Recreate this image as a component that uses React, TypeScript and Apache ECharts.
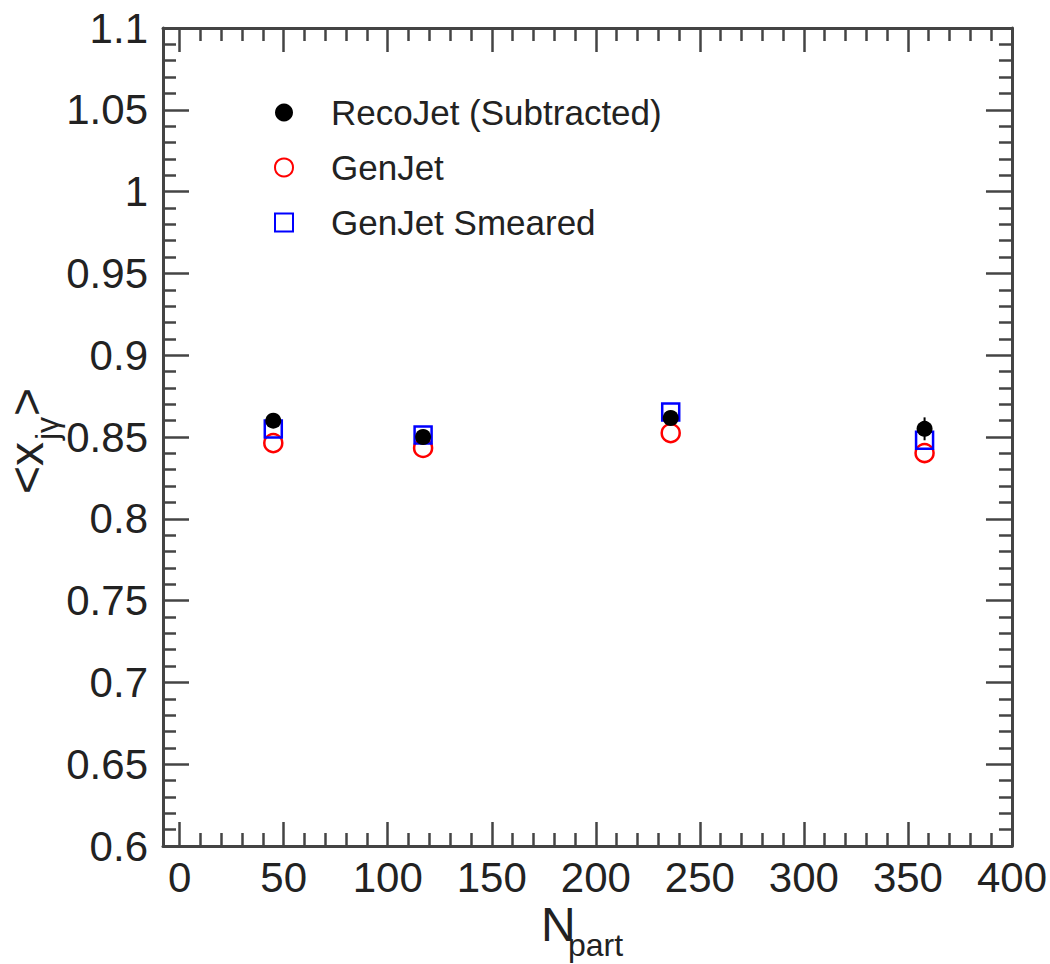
import React, { useEffect, useRef } from "react";
import * as echarts from "echarts";

const FONT = '"Liberation Sans", Arial, Helvetica, sans-serif';

// N_part positions of the four centrality classes
const xValues = [45, 117, 236, 358];
// <x_jγ> values
const recoJet = [0.86, 0.85, 0.8616, 0.855];
const recoJetErr = [0.003, 0.003, 0.003, 0.007];
const genJet = [0.8463, 0.8433, 0.8524, 0.8402];
const genJetSmeared = [0.8549, 0.8512, 0.8653, 0.848];

const seriesNames = ["RecoJet (Subtracted)", "GenJet", "GenJet Smeared"];

const xMin = -8;
const xMax = 400;
const xMajorTicks = [0, 50, 100, 150, 200, 250, 300, 350, 400];
const xMinorTicks = xMajorTicks
  .flatMap((v) => [v + 10, v + 20, v + 30, v + 40])
  .filter((v) => v < xMax);

const yMin = 0.6;
const yMax = 1.1;
const yInterval = 0.05;

const AXIS_COLOR = "#444";
const TEXT_COLOR = "#222";
const SQUARE = "path://M0,0L10,0L10,10L0,10Z";

export default function App() {
  const ref = useRef<HTMLDivElement>(null);

  useEffect(() => {
    document.body.style.margin = "0";
    if (!ref.current) return;
    const chart = echarts.init(ref.current, undefined, { renderer: "svg" });

    const lineStyle = { color: AXIS_COLOR, width: 3 };
    const tickStyle = { color: AXIS_COLOR, width: 2.5 };

    const xAxisBase = {
      type: "value" as const,
      min: xMin,
      max: xMax,
      splitLine: { show: false },
      minorSplitLine: { show: false },
    };

    const yAxisBase = {
      type: "value" as const,
      min: yMin,
      max: yMax,
      interval: yInterval,
      splitLine: { show: false },
      minorSplitLine: { show: false },
      axisLine: { show: true, onZero: false, lineStyle },
      axisTick: { show: true, inside: true, length: 26, lineStyle: tickStyle },
      minorTick: { show: true, splitNumber: 5, length: 13, lineStyle: tickStyle },
    };

    const option: any = {
      animation: false,
      backgroundColor: "#fff",
      grid: { left: 163, right: 38, top: 28, bottom: 118, containLabel: false },
      legend: {
        orient: "vertical",
        left: 269,
        top: 90,
        itemWidth: 84,
        itemHeight: 18,
        itemGap: 20,
        selectedMode: false,
        textStyle: { fontSize: 35, fontFamily: FONT, color: TEXT_COLOR },
        data: [
          { name: seriesNames[0], icon: "circle" },
          { name: seriesNames[1], icon: "circle" },
          { name: seriesNames[2], icon: SQUARE },
        ],
      },
      xAxis: [
        {
          ...xAxisBase,
          position: "bottom",
          axisLine: { show: true, onZero: false, lineStyle },
          axisTick: {
            show: true,
            inside: true,
            length: 24,
            customValues: xMajorTicks,
            lineStyle: tickStyle,
          },
          axisLabel: {
            show: true,
            customValues: xMajorTicks,
            fontSize: 42,
            fontFamily: FONT,
            color: TEXT_COLOR,
            margin: 10,
          },
        },
        {
          ...xAxisBase,
          position: "bottom",
          axisLine: { show: false },
          axisTick: {
            show: true,
            inside: true,
            length: 13,
            customValues: xMinorTicks,
            lineStyle: tickStyle,
          },
          axisLabel: { show: false },
        },
        {
          ...xAxisBase,
          position: "top",
          axisLine: { show: true, onZero: false, lineStyle },
          axisTick: {
            show: true,
            inside: true,
            length: 24,
            customValues: xMajorTicks,
            lineStyle: tickStyle,
          },
          axisLabel: { show: false },
        },
        {
          ...xAxisBase,
          position: "top",
          axisLine: { show: false },
          axisTick: {
            show: true,
            inside: true,
            length: 13,
            customValues: xMinorTicks,
            lineStyle: tickStyle,
          },
          axisLabel: { show: false },
        },
      ],
      yAxis: [
        {
          ...yAxisBase,
          position: "left",
          axisLabel: {
            show: true,
            fontSize: 42,
            fontFamily: FONT,
            color: TEXT_COLOR,
            margin: 15,
          },
        },
        {
          ...yAxisBase,
          position: "right",
          axisLabel: { show: false },
        },
      ],
      series: [
        {
          name: seriesNames[1],
          type: "scatter",
          symbol: "circle",
          symbolSize: 18,
          itemStyle: {
            color: "rgba(255,255,255,0)",
            borderColor: "#ff0000",
            borderWidth: 2.5,
            opacity: 1,
          },
          data: xValues.map((x, i) => [x, genJet[i]]),
          z: 3,
        },
        {
          name: seriesNames[2],
          type: "scatter",
          symbol: SQUARE,
          symbolKeepAspect: true,
          symbolSize: 17,
          itemStyle: {
            color: "rgba(255,255,255,0)",
            borderColor: "#0000ff",
            borderWidth: 2.5,
            opacity: 1,
          },
          data: xValues.map((x, i) => [x, genJetSmeared[i]]),
          z: 4,
        },
        {
          name: "recoErr",
          type: "custom",
          data: xValues.map((x, i) => [x, recoJet[i] - recoJetErr[i], recoJet[i] + recoJetErr[i]]),
          renderItem: (params: any, api: any) => {
            const p1 = api.coord([api.value(0), api.value(1)]);
            const p2 = api.coord([api.value(0), api.value(2)]);
            return {
              type: "line",
              shape: { x1: p1[0], y1: p1[1], x2: p2[0], y2: p2[1] },
              style: { stroke: "#000", lineWidth: 2 },
            };
          },
          z: 5,
        },
        {
          name: seriesNames[0],
          type: "scatter",
          symbol: "circle",
          symbolSize: 16,
          itemStyle: { color: "#000", opacity: 1 },
          data: xValues.map((x, i) => [x, recoJet[i]]),
          z: 6,
        },
      ],
      graphic: [
        {
          type: "text",
          x: 541,
          y: 924,
          style: {
            text: "N",
            fontSize: 48,
            fontFamily: FONT,
            fill: TEXT_COLOR,
            textAlign: "left",
            textVerticalAlign: "middle",
          },
        },
        {
          type: "text",
          x: 568,
          y: 945,
          style: {
            text: "part",
            fontSize: 32,
            fontFamily: FONT,
            fill: TEXT_COLOR,
            textAlign: "left",
            textVerticalAlign: "middle",
          },
        },
        {
          type: "group",
          x: 26,
          y: 494,
          rotation: Math.PI / 2,
          children: [
            {
              type: "text",
              x: 0,
              y: 0,
              style: {
                text: "<x",
                fontSize: 48,
                fontFamily: FONT,
                fill: TEXT_COLOR,
                textAlign: "left",
                textVerticalAlign: "middle",
              },
            },
            {
              type: "text",
              x: 54,
              y: 21,
              style: {
                text: "jγ",
                fontSize: 32,
                fontFamily: FONT,
                fill: TEXT_COLOR,
                textAlign: "left",
                textVerticalAlign: "middle",
              },
            },
            {
              type: "text",
              x: 78,
              y: 0,
              style: {
                text: ">",
                fontSize: 48,
                fontFamily: FONT,
                fill: TEXT_COLOR,
                textAlign: "left",
                textVerticalAlign: "middle",
              },
            },
          ],
        },
      ],
    };

    chart.setOption(option);
    return () => chart.dispose();
  }, []);

  return <div ref={ref} style={{ width: 1050, height: 964 }} />;
}
